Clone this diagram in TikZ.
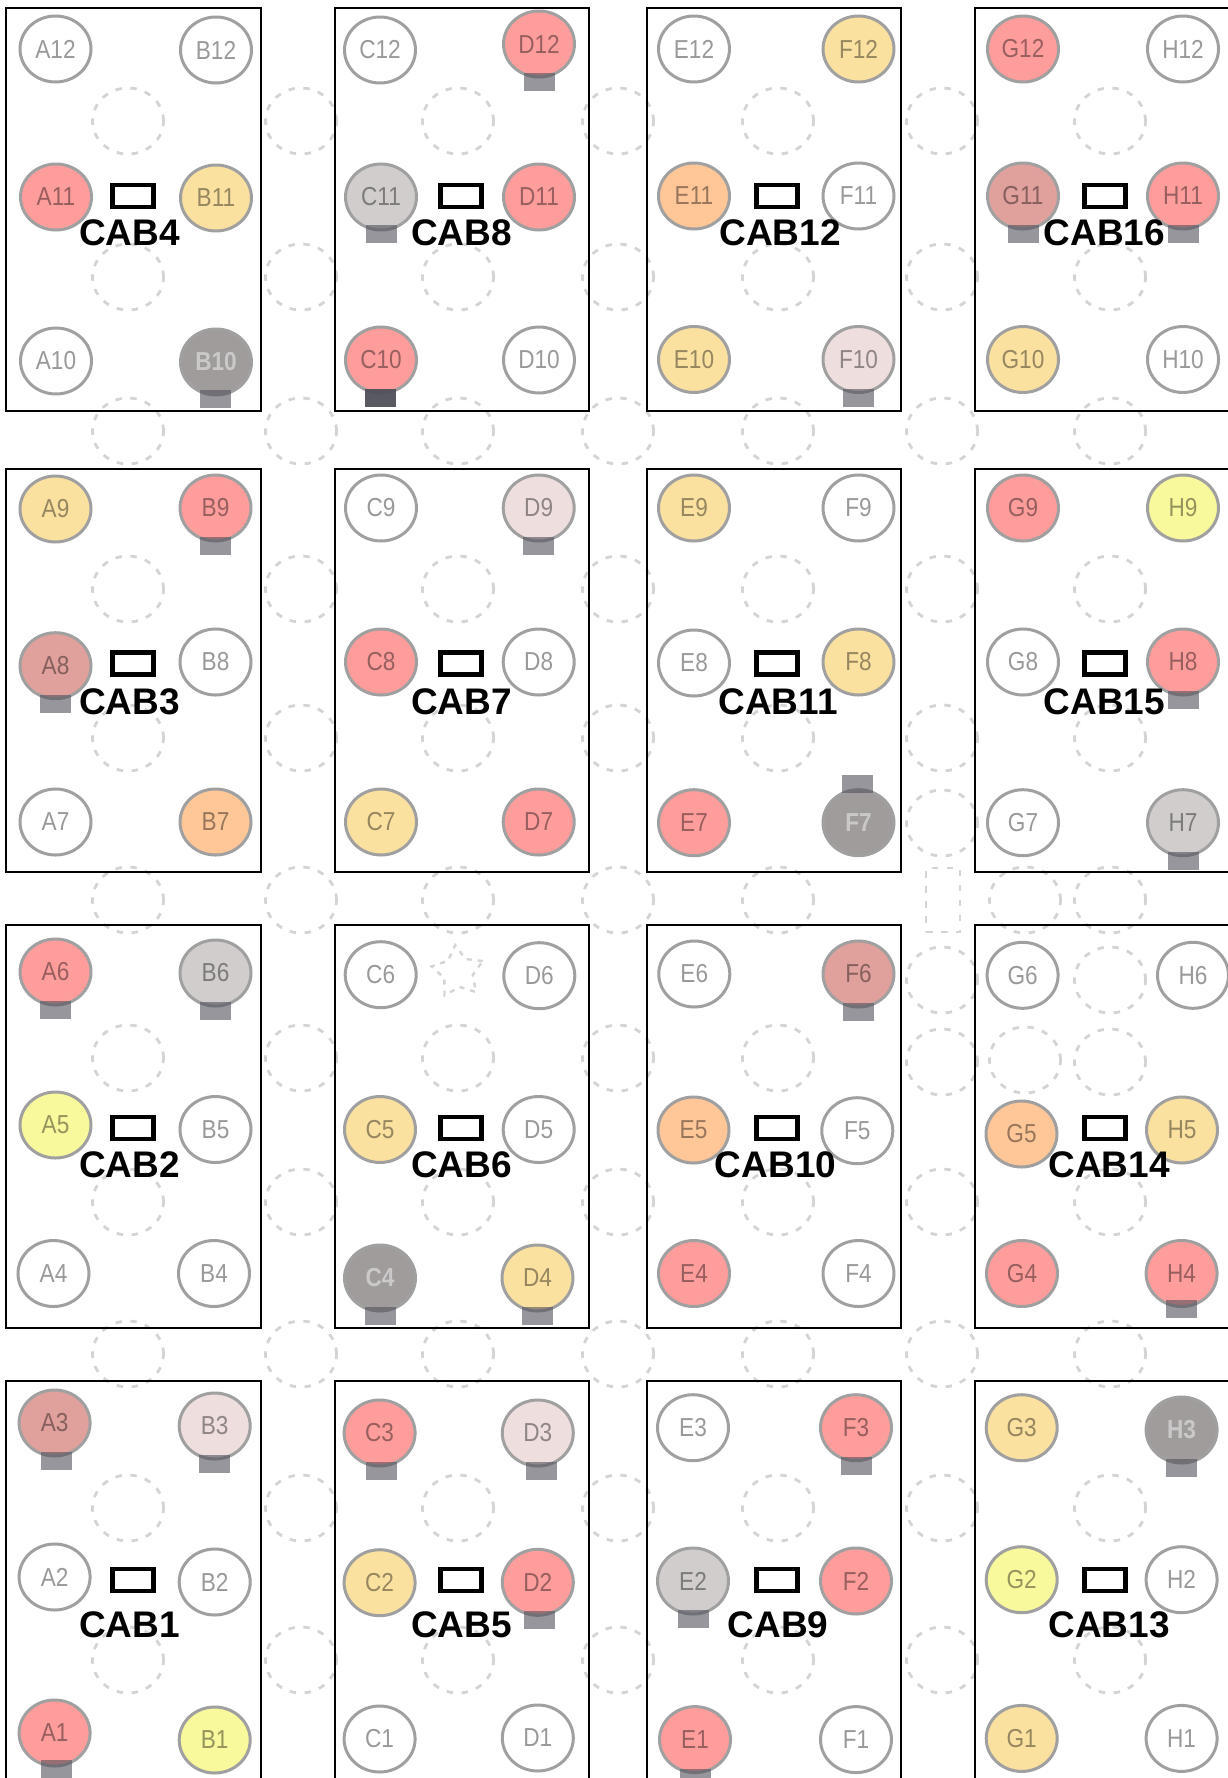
\documentclass[tikz,border=0pt]{standalone}
\usepackage{fontspec}
\setmainfont{Liberation Sans}
\newfontfamily\senfont[FakeStretch=0.87]{Liberation Sans}
\usetikzlibrary{shapes.geometric}
\usetikzlibrary{positioning}
\definecolor{ringgray}{HTML}{A0A0A0}
\definecolor{ghostgray}{HTML}{D4D4D4}
\definecolor{tabgray}{HTML}{50505A}

\begin{document}
\begin{tikzpicture}[
  x=1pt, y=-1pt,
  sensor/.style={ellipse, draw=ringgray, line width=3pt, minimum width=71pt, minimum height=66pt, inner sep=0pt,
    text=black, text opacity=.4, font=\senfont\fontsize{26}{26}\selectfont},
  fnone/.style={fill=white},
  fred/.style={fill=fredc},
  ftan/.style={fill=ftanc},
  forange/.style={fill=forangec},
  fyellow/.style={fill=fyellowc},
  fgray/.style={fill=fgrayc},
  frose/.style={fill=frosec},
  fpale/.style={fill=fpalec},
  fdark/.style={fill=fdarkc, text=white, text opacity=.45, font=\senfont\bfseries\fontsize{26}{26}\selectfont},
  ghost/.style={ellipse, draw=ghostgray, line width=2.8pt, dash pattern=on 6.5pt off 8.5pt, minimum width=71pt, minimum height=66pt, inner sep=0pt},
  ghostbox/.style={rectangle, draw=ghostgray, line width=2.8pt, dash pattern=on 6.5pt off 8.5pt, minimum width=34pt, minimum height=64pt, inner sep=0pt},
  cabinet/.style={rectangle, draw=black, line width=2.2pt, minimum width=254.5pt, minimum height=403pt, inner sep=0pt, anchor=north west},
  door/.style={rectangle, draw=black, line width=4.2pt, minimum width=41pt, minimum height=22pt, inner sep=0pt},
  cablabel/.style={font=\bfseries\fontsize{37}{37}\selectfont, inner sep=0pt},
  tabbox/.style={rectangle, fill=tabgray, minimum width=31pt, minimum height=18pt, inner sep=0pt}
]
\definecolor{fredc}{HTML}{FF9D9D}
\definecolor{ftanc}{HTML}{FBE1A0}
\definecolor{forangec}{HTML}{FFC698}
\definecolor{fyellowc}{HTML}{F8F89C}
\definecolor{fgrayc}{HTML}{D0CDCC}
\definecolor{frosec}{HTML}{E0A09C}
\definecolor{fpalec}{HTML}{EFDEDE}
\definecolor{fdarkc}{HTML}{A09C9C}
\useasboundingbox (0,0) rectangle (1227,1778);

% Empty positions
\foreach \gx in {128,301,458,618,778}
  \foreach \gy in {121,277,431,589,738,900,1058,1202,1354,1508,1660}
    \node[ghost] (g\gx-\gy) at (\gx,\gy) {};
\foreach \gy in {121,277,431,589,738,823,980,1062,1202,1354,1508,1660}
  \node[ghost] (g942-\gy) at (942,\gy) {};
\foreach \gy in {121,277,431,589,738,900,980,1062,1202,1354,1508,1660}
  \node[ghost] (g1111-\gy) at (1110,\gy) {};
\node[ghost] (g1025-900) at (1025,900) {};
\node[ghost] (g1025-1060) at (1025,1060) {};
\node[ghostbox] (gbox) at (943,900) {};
\node[star, star points=5, star point ratio=1.8, minimum size=54pt, inner sep=0pt, shape border rotate=-66,
  draw=ghostgray, line width=2.4pt, dash pattern=on 5pt off 6pt] (gstar) at (458,972) {};

% Cabinets
\foreach \cb/\cx/\cy in {4/5/7,8/333.5/7,12/645.5/7,16/973.5/7,
                         3/5/467.5,7/333.5/467.5,11/645.5/467.5,15/973.5/467.5,
                         2/5/923.5,6/333.5/923.5,10/645.5/923.5,14/973.5/923.5,
                         1/5/1379.5,5/333.5/1379.5,9/645.5/1379.5,13/973.5/1379.5}
  \node[cabinet] (cab\cb) at (\cx,\cy) {};

% Sensors
\foreach \nm/\px/\py/\st in {
  A12/55.5/49/fnone, B12/216/50/fnone, A11/56/197/fred, B11/216/198/ftan, A10/56/361/fnone, B10/216/362/fdark,
  C12/380/50/fnone, D12/539/44/fred, C11/381/197/fgray, D11/539/197/fred, C10/381/360/fred, D10/539/360/fnone,
  E12/694/49/fnone, F12/858.5/49/ftan, E11/694/196/forange, F11/858.5/196/fnone, E10/694/359.5/ftan, F10/858.5/359.5/fpale,
  G12/1023/49/fred, H12/1183/49/fnone, G11/1023/196/frose, H11/1183/196/fred, G10/1023/359.5/ftan, H10/1183/359.5/fnone,
  A9/55.5/509/ftan, B9/215.5/508/fred, A8/55.5/665.7/frose, B8/215.5/662/fnone, A7/55.5/822/fnone, B7/215.5/822/forange,
  C9/381/508/fnone, D9/538.7/508/fpale, C8/381/662/fred, D8/538.7/662/fnone, C7/381/822/ftan, D7/538.7/822/fred,
  E9/694/508/ftan, F9/858.5/508/fnone, E8/694/663/fnone, F8/858.5/662/ftan, E7/694/822.7/fred, F7/858.5/822.7/fdark,
  G9/1023/508/fred, H9/1183/508/fyellow, G8/1023/662/fnone, H8/1183/662/fred, G7/1023/822.7/fnone, H7/1183/822.7/fgray,
  A6/55.5/972/fred, B6/215.5/973/fgray, A5/55.5/1125/fyellow, B5/215.5/1129.5/fnone, A4/53.5/1273.5/fnone, B4/214/1273.5/fnone,
  C6/380.7/974.7/fnone, D6/539.3/975.7/fnone, C5/380/1129.5/ftan, D5/538.7/1129.5/fnone, C4/380/1278/fdark, D4/537.5/1278/ftan,
  E6/694.3/974/fnone, F6/858.5/974/frose, E5/693.5/1130/forange, F5/857.3/1130.7/fnone, E4/694/1273.5/fred, F4/858.5/1273.5/fnone,
  G6/1022.6/975.3/fnone, H6/1193/975.3/fnone, G5/1021.5/1134/forange, H5/1182/1130/ftan, G4/1022/1273.5/fred, H4/1181.6/1273.5/fred,
  A3/54.6/1423/frose, B3/214.7/1426/fpale, C3/379.6/1433/fred, D3/537.8/1433/fpale,
  A2/54.6/1577/fnone, B2/214.7/1582/fnone, C2/379.6/1582.7/ftan, D2/537.8/1582.3/fred,
  A1/54.6/1733/fred, B1/214.7/1740/fyellow, C1/379.6/1739/fnone, D1/537.8/1738/fnone,
  E3/693/1427.7/fnone, F3/856/1427.7/fred, E2/693/1581/fgray, F2/856/1581/fred, E1/695/1739.6/fred, F1/856/1739.6/fnone,
  G3/1021.7/1427.7/ftan, H3/1181.6/1430/fdark, G2/1021.7/1579.7/fyellow, H2/1181.6/1579.7/fnone, G1/1021.7/1738.4/ftan, H1/1181.6/1738.4/fnone}
  \node[sensor, \st] (\nm) at (\px,\py) {\nm};

% Tabs under the sensors
\foreach \nm/\tx/\ty/\op in {D12/0/38/.6, B10/-1/37/.6, C11/0/37/.6, C10/-1/38/.95, G11/0/38/.6, H11/0/38/.6, F10/0/38/.6,
  B9/0/38/.6, D9/0/38/.6, A8/0/38/.6, H8/0/38/.6, H7/0/38/.6, F7/-1/-39/.6, A6/0/38/.6, B6/0/38/.6, F6/0/38/.6,
  C4/0/38/.6, D4/0/38/.6, H4/0/35/.6, A3/2/38/.6, B3/0/38/.6, C3/2/38/.6, D3/4/38/.6, F3/0/38/.6, H3/0/38/.6,
  D2/2/38/.6, E2/0/38/.6, A1/2/36/.6, E1/0/38/.6}
  \node[tabbox, fill opacity=\op] (t\nm) at ([xshift=\tx pt, yshift=-\ty pt]\nm.center) {};

% Doors and names
\foreach \cb/\ax/\ay/\lx/\ly in {4/133/196/129.5/232.5, 8/461/196/461.5/232.5, 12/777/196/780/232.5, 16/1105/196/1104.5/232.5,
  3/133/663.5/129.5/702, 7/461/663.5/461.5/702, 11/777/663.5/778/702, 15/1105/663.5/1104.5/702,
  2/133/1128/129.5/1165, 6/461/1128/461.5/1165, 10/777/1128/775.6/1165, 14/1105/1128/1109/1165,
  1/133/1580/129.5/1625, 5/461/1580/461.5/1625, 9/777/1580/778/1625, 13/1105/1580/1109/1625} {
  \node[door] (door\cb) at (\ax,\ay) {};
  \node[cablabel] (name\cb) at (\lx,\ly) {CAB\cb};
}
\end{tikzpicture}
\end{document}
